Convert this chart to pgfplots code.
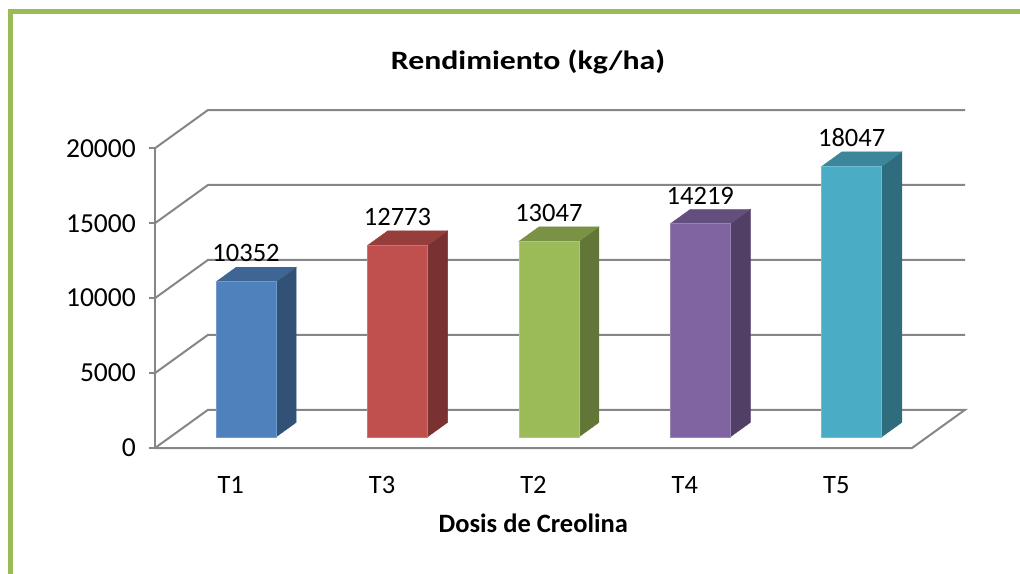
\documentclass[border=0pt]{standalone}
\usepackage{pgfplots}
\pgfplotsset{compat=1.18}
\usepackage{pgfplotstable}
\usepackage{graphicx}
\usepackage{fontspec}
\setmainfont{Carlito}

\definecolor{bordergreen}{RGB}{155,187,89}
\definecolor{gridgray}{RGB}{134,134,134}
\definecolor{c0}{HTML}{4F81BD}
\definecolor{c1}{HTML}{C0504D}
\definecolor{c2}{HTML}{9BBB59}
\definecolor{c3}{HTML}{8064A2}
\definecolor{c4}{HTML}{4BACC6}
\colorlet{s0}{c0!63!black}\colorlet{t0}{c0!78!black}
\colorlet{s1}{c1!63!black}\colorlet{t1}{c1!78!black}
\colorlet{s2}{c2!63!black}\colorlet{t2}{c2!78!black}
\colorlet{s3}{c3!63!black}\colorlet{t3}{c3!78!black}
\colorlet{s4}{c4!63!black}\colorlet{t4}{c4!78!black}

% T1, T3, T2, T4, T5 in the chart's order
\pgfplotstableread{
x v
0 10352
1 12773
2 13047
3 14219
4 18047
}\datatable

\begin{document}
\begin{tikzpicture}
\path[use as bounding box] (0pt,0pt) rectangle (1020pt,-573pt);
\draw[bordergreen, line width=5pt] (10pt,-575pt) -- (10pt,-11pt) -- (1022pt,-11pt);
\begin{axis}[
  at={(155pt,-448pt)}, anchor=south west,
  scale only axis, width=810pt, height=338pt,
  xmin=-0.5, xmax=4.85, ymin=0, ymax=22550,
  clip=false,
  axis line style={draw=none},
  xtick={0,...,4}, xticklabels={T1,T3,T2,T4,T5},
  ytick={0,5000,...,20000},
  scaled y ticks=false,
  tick pos=left,
  tick align=outside,
  major tick length=6pt,
  xtick style={draw=none},
  ytick style={draw=gridgray, line width=2pt},
  ticklabel style={font=\fontsize{26.5}{31}\selectfont, inner sep=0pt},
  yticklabel style={font=\fontsize{27.5}{32}\selectfont, xshift=-13pt},
  xticklabel style={anchor=north, yshift=-22pt},
  /pgf/number format/1000 sep={},
  /pgf/number format/assume math mode=true,
  title={\scalebox{1.2}[1]{Rendimiento (kg/ha)}},
  title style={font=\fontsize{26.5}{31}\selectfont\bfseries, at={(rel axis cs:0.4605,1.125)}, anchor=center},
  xlabel={Dosis de Creolina},
  xlabel style={font=\fontsize{26.5}{31}\selectfont\bfseries, at={(rel axis cs:0.467,-0.222)}, anchor=center},
  gridline/.style={draw=gridgray, line width=2pt, forget plot, mark=none},
]
% floor and walls
\addplot[gridline] coordinates {(-0.5,0) (4.5,0) (4.85,2550) (-0.15,2550) (-0.5,0)};
\addplot[gridline] coordinates {(-0.5,5000) (-0.15,7550) (4.85,7550)};
\addplot[gridline] coordinates {(-0.5,10000) (-0.15,12550) (4.85,12550)};
\addplot[gridline] coordinates {(-0.5,15000) (-0.15,17550) (4.85,17550)};
\addplot[gridline] coordinates {(-0.5,20000) (-0.15,22550) (4.85,22550)};
\addplot[gridline] coordinates {(-0.5,0) (-0.5,20000)};
% bars
\pgfplotsinvokeforeach{0,...,4}{
  \pgfplotstablegetelem{#1}{v}\of\datatable
  \edef\vf{\the\numexpr 740+\pgfplotsretval\relax}
  \edef\vb{\the\numexpr 1709+\pgfplotsretval\relax}
  \pgfmathsetmacro\xl{#1-0.0965}
  \pgfmathsetmacro\xr{#1+0.2995}
  \pgfmathsetmacro\xrb{#1+0.4325}
  \pgfmathsetmacro\xlb{#1+0.0365}
  \addplot[fill=s#1, draw=s#1, line width=0.4pt, forget plot, mark=none]
    coordinates {(\xr,740) (\xrb,1709) (\xrb,\vb) (\xr,\vf)} -- cycle;
  \addplot[fill=t#1, draw=t#1, line width=0.4pt, forget plot, mark=none]
    coordinates {(\xl,\vf) (\xr,\vf) (\xrb,\vb) (\xlb,\vb)} -- cycle;
  \addplot[fill=c#1, draw=c#1!80!white, line width=0.6pt, forget plot, mark=none]
    coordinates {(\xl,740) (\xr,740) (\xr,\vf) (\xl,\vf)} -- cycle;
}
% value labels
\addplot[draw=none, mark=none, point meta=explicit,
  nodes near coords={\pgfmathprintnumber[fixed,precision=0,1000 sep={}]{\pgfplotspointmeta}},
  nodes near coords style={font=\fontsize{26.5}{31}\selectfont, anchor=south, inner sep=0pt, yshift=5pt}]
  table[x expr=\thisrow{x}+0.1015, y expr=\thisrow{v}+1709, meta=v] {\datatable};
\end{axis}
\end{tikzpicture}
\end{document}
